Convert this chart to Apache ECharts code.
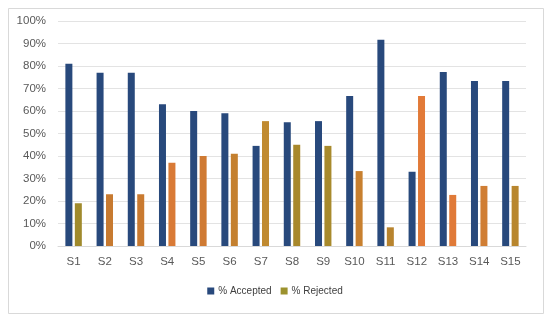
<!DOCTYPE html>
<html>
<head>
<meta charset="utf-8">
<script src="https://cdn.jsdelivr.net/npm/echarts@6/dist/echarts.min.js"></script>
<style>
html,body{margin:0;padding:0;background:#fff;}
#chart{width:550px;height:320px;}
</style>
</head>
<body>
<div id="chart"></div>
<script>
var categories = ['S1','S2','S3','S4','S5','S6','S7','S8','S9','S10','S11','S12','S13','S14','S15'];
var accepted = [81, 77, 77, 63, 60, 59, 44.5, 55, 55.5, 66.7, 91.7, 33, 77.3, 73.3, 73.3];
var rejected = [19, 23, 23, 37, 40, 41, 55.5, 45, 44.5, 33.3, 8.3, 66.7, 22.7, 26.7, 26.7];
var yTicks = [0, 10, 20, 30, 40, 50, 60, 70, 80, 90, 100];
var seriesNames = ['% Accepted', '% Rejected'];

var acceptedColor = '#28497c';
var rejectedColor = '#9c922e';
var rejectedBarColors = ['#a08a2c','#c77a30','#c97a30','#d97a36','#cf7a33','#c4802f','#c08a30','#a8882c','#a88a2c','#c8802f','#b8842e','#e27a38','#e07a38','#d07e34','#b8862e'];

var rejectedData = rejected.map(function(v, i){
  return {value: v, itemStyle: {color: rejectedBarColors[i]}};
});

var chart = echarts.init(document.getElementById('chart'), null, {renderer:'canvas'});
var font = 'Liberation Sans, Arial, sans-serif';
chart.setOption({
  animation: false,
  backgroundColor: '#ffffff',
  graphic: [{
    type: 'rect', left: 6, top: 6,
    shape: {width: 535, height: 305},
    style: {fill: 'none', stroke: '#d9d9d9', lineWidth: 1},
    silent: true
  }],
  grid: {left: 58, right: 24, top: 21, bottom: 74},
  legend: {
    data: seriesNames,
    bottom: 19, left: 'center',
    itemWidth: 7, itemHeight: 7, itemGap: 9,
    icon: 'rect',
    textStyle: {fontFamily: font, fontSize: 10, color: '#404040', padding: [0,0,0,-1]}
  },
  xAxis: {
    type: 'category',
    data: categories,
    axisTick: {show: false},
    axisLine: {lineStyle: {color: '#d9d9d9', width: 1}},
    axisLabel: {fontFamily: font, fontSize: 11.5, color: '#595959', margin: 10}
  },
  yAxis: {
    type: 'value',
    min: yTicks[0], max: yTicks[yTicks.length-1], interval: 10,
    axisLine: {show: false}, axisTick: {show: false},
    splitLine: {lineStyle: {color: '#e3e3e3', width: 1}},
    axisLabel: {fontFamily: font, fontSize: 11.5, color: '#595959', margin: 12, formatter: '{value}%'}
  },
  series: [{
    name: seriesNames[0], type: 'bar', data: accepted,
    barWidth: 7, barGap: '35%',
    itemStyle: {color: acceptedColor}
  },{
    name: seriesNames[1], type: 'bar', data: rejectedData,
    barWidth: 7,
    itemStyle: {color: rejectedColor}
  }]
});
</script>
</body>
</html>
